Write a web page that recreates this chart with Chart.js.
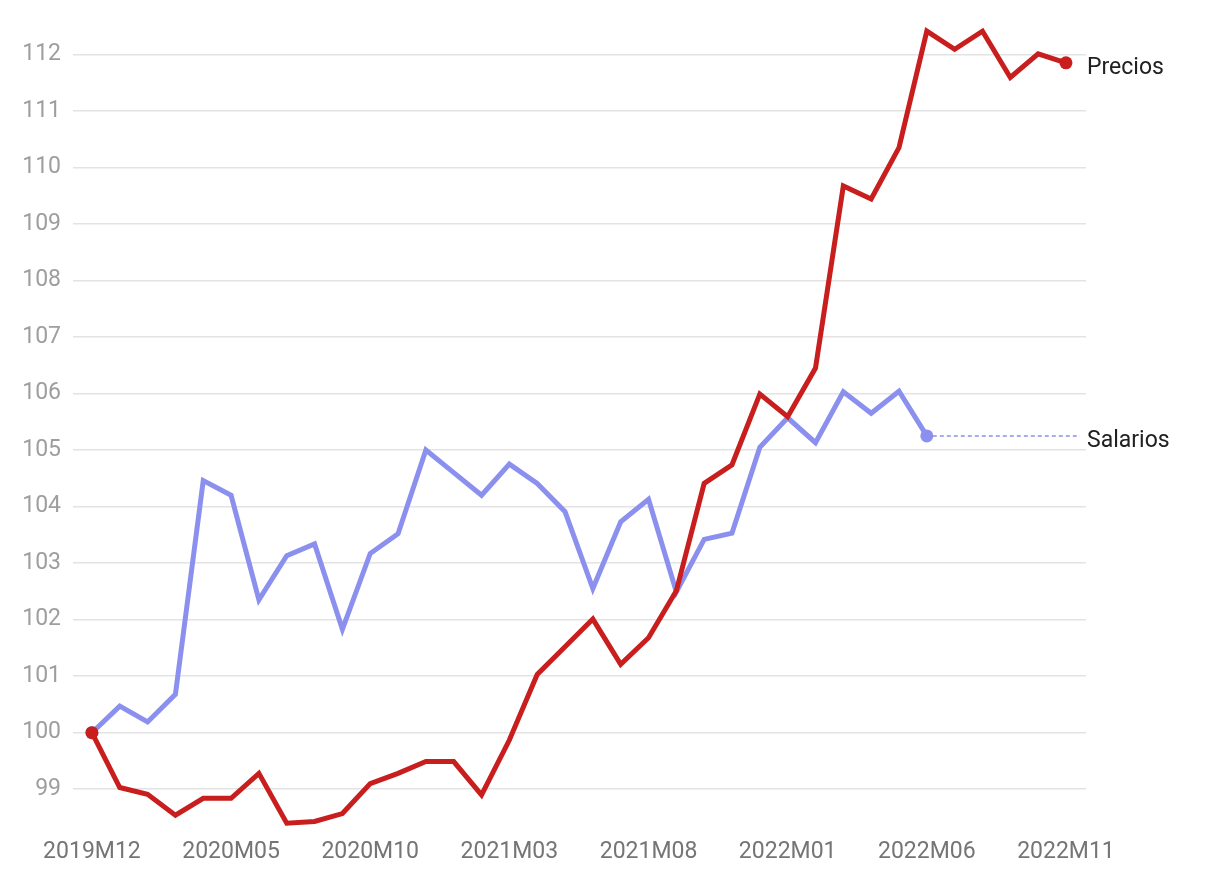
<!DOCTYPE html>
<html>
<head>
<meta charset="utf-8">
<script src="https://cdn.jsdelivr.net/npm/chart.js@4"></script>
<style>
  html, body { margin: 0; padding: 0; background: #fff; }
  #wrap { width: 1212px; height: 884px; }
</style>
</head>
<body>
<div id="wrap"><canvas id="c" width="1212" height="884"></canvas></div>
<script>
const categories = [
  '2019M12','2020M01','2020M02','2020M03','2020M04','2020M05','2020M06','2020M07','2020M08','2020M09','2020M10','2020M11',
  '2020M12','2021M01','2021M02','2021M03','2021M04','2021M05','2021M06','2021M07','2021M08','2021M09','2021M10','2021M11',
  '2021M12','2022M01','2022M02','2022M03','2022M04','2022M05','2022M06','2022M07','2022M08','2022M09','2022M10','2022M11'
];
const precios = [
  100.00, 99.03, 98.91, 98.54, 98.84, 98.84, 99.28, 98.40, 98.43, 98.57, 99.10, 99.28,
  99.49, 99.49, 98.90, 99.87, 101.03, 101.52, 102.01, 101.21, 101.68, 102.51, 104.41, 104.74,
  105.99, 105.59, 106.45, 109.67, 109.44, 110.35, 112.41, 112.09, 112.41, 111.59, 112.01, 111.85
];
const salarios = [
  100.00, 100.47, 100.19, 100.68, 104.46, 104.20, 102.35, 103.13, 103.34, 101.83, 103.17, 103.52,
  105.00, 104.60, 104.20, 104.75, 104.41, 103.91, 102.55, 103.73, 104.13, 102.49, 103.42, 103.53,
  105.05, 105.57, 105.13, 106.03, 105.65, 106.04, 105.25
];
const xTickValues = [0, 5, 10, 15, 20, 25, 30, 35];
const yTickValues = [99, 100, 101, 102, 103, 104, 105, 106, 107, 108, 109, 110, 111, 112];
const seriesNames = ['Precios', 'Salarios'];

const RED = '#c81e1e';
const BLUE = '#8b90ee';

Chart.defaults.font.family = 'Roboto, "Noto Sans", sans-serif';

const toXY = arr => arr.map((v, i) => ({ x: i, y: v }));
const endRadius = n => ctx => (ctx.dataIndex === 0 || ctx.dataIndex === n - 1) ? 6.5 : 0;

const endLabels = {
  id: 'endLabels',
  afterDatasetsDraw(chart) {
    const { ctx, chartArea, scales } = chart;
    const xs = scales.x, ys = scales.y;
    ctx.save();
    const sLast = salarios.length - 1;
    const sx = xs.getPixelForValue(sLast);
    const sy = ys.getPixelForValue(salarios[sLast]);
    ctx.strokeStyle = BLUE;
    ctx.lineWidth = 1.5;
    ctx.setLineDash([4, 3]);
    ctx.beginPath();
    ctx.moveTo(sx + 6, sy);
    ctx.lineTo(chartArea.right - 6, sy);
    ctx.stroke();
    ctx.setLineDash([]);
    ctx.fillStyle = '#212121';
    ctx.font = '23px Roboto, "Noto Sans", sans-serif';
    ctx.textAlign = 'left';
    ctx.textBaseline = 'middle';
    const pLast = precios.length - 1;
    ctx.fillText(seriesNames[0], chartArea.right + 1, ys.getPixelForValue(precios[pLast]) + 5);
    ctx.fillText(seriesNames[1], chartArea.right + 1, sy + 5.5);
    ctx.restore();
  }
};

new Chart(document.getElementById('c'), {
  type: 'line',
  data: {
    datasets: [
      {
        label: seriesNames[0],
        data: toXY(precios),
        borderColor: RED,
        backgroundColor: RED,
        borderWidth: 5,
        pointRadius: endRadius(precios.length),
        pointBorderWidth: 0,
        pointHoverRadius: 0,
        tension: 0,
        borderJoinStyle: 'miter',
        order: 0
      },
      {
        label: seriesNames[1],
        data: toXY(salarios),
        borderColor: BLUE,
        backgroundColor: BLUE,
        borderWidth: 5,
        pointRadius: endRadius(salarios.length),
        pointBorderWidth: 0,
        pointHoverRadius: 0,
        tension: 0,
        borderJoinStyle: 'miter',
        order: 1
      }
    ]
  },
  options: {
    responsive: false,
    animation: false,
    events: [],
    layout: { padding: { top: 20, right: 126, bottom: 0, left: 0 } },
    plugins: { legend: { display: false }, tooltip: { enabled: false } },
    scales: {
      x: {
        type: 'linear',
        min: -0.68,
        max: 35.72,
        afterBuildTicks: s => { s.ticks = xTickValues.map(v => ({ value: v })); },
        afterFit: s => { s.height = 50; s.paddingLeft = 0; s.paddingRight = 0; },
        grid: { display: false, drawTicks: false },
        border: { display: false },
        ticks: {
          autoSkip: false,
          maxRotation: 0,
          padding: 4,
          color: '#757575',
          font: { size: 23 },
          callback: v => categories[v]
        }
      },
      y: {
        min: 98.208,
        max: 112.607,
        afterBuildTicks: s => { s.ticks = yTickValues.map(v => ({ value: v })); },
        afterFit: s => { s.width = 73; s.paddingTop = 0; s.paddingBottom = 0; },
        grid: { color: '#e3e3e3', lineWidth: 1.5, drawTicks: false },
        border: { display: false },
        ticks: {
          padding: 12,
          color: '#9e9e9e',
          font: { size: 23 },
          callback: v => String(v)
        }
      }
    }
  },
  plugins: [endLabels]
});
</script>
</body>
</html>
